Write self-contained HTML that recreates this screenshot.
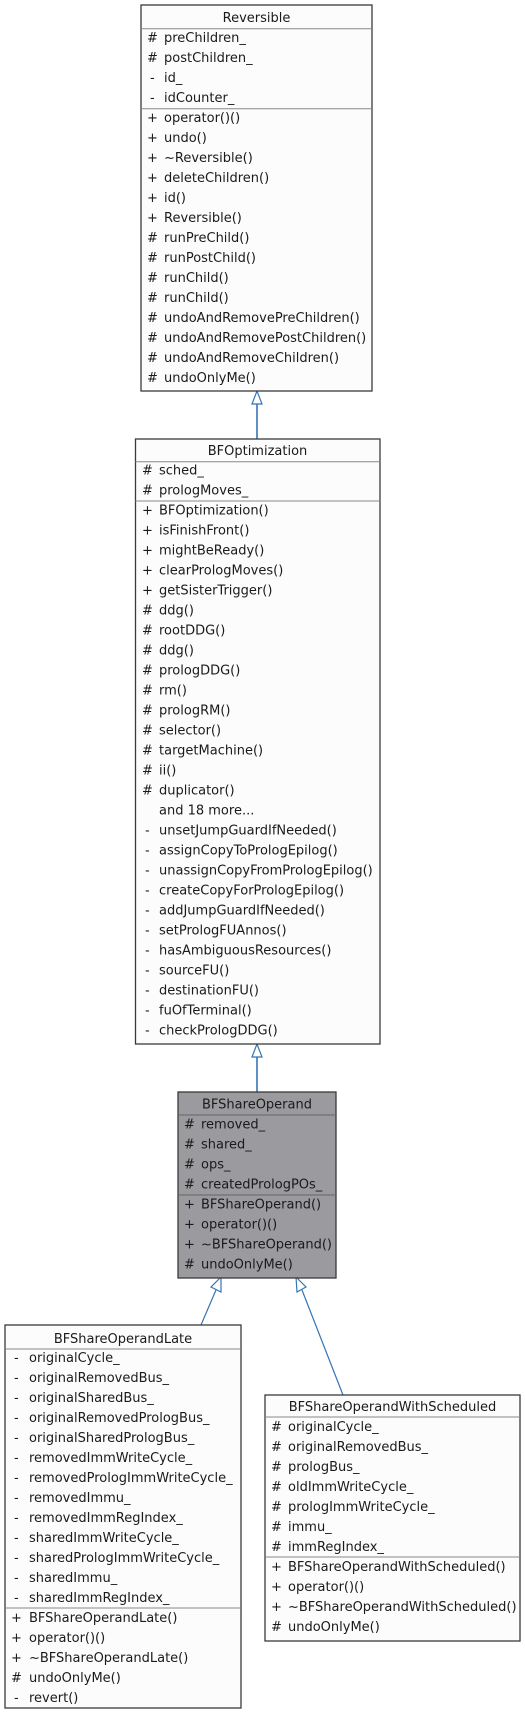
<!DOCTYPE html>
<html><head><meta charset="utf-8"><style>
html,body{margin:0;padding:0;background:#fff;}
svg{display:block;}
text{font-family:"DejaVu Sans","Liberation Sans",sans-serif;font-size:13px;fill:#1a1a1a;}
.box{fill:#fbfcfb;stroke:#3a3a3a;stroke-width:1.3;}
.sep{stroke:#888;stroke-width:1;}
.ln{stroke:#3575b5;fill:none;}
.ah{stroke:#3575b5;fill:#fff;stroke-width:1.2;}
</style></head><body>
<svg width="525" height="1716" viewBox="0 0 525 1716" xmlns="http://www.w3.org/2000/svg">
<line class="ln" x1="257" y1="404" x2="257" y2="439" stroke-width="1.6"/>
<polygon class="ah" points="257,391 252,404 262,404"/>
<line class="ln" x1="257" y1="1057" x2="257" y2="1092" stroke-width="1.6"/>
<polygon class="ah" points="257,1044 252,1057 262,1057"/>
<line class="ln" x1="216" y1="1290" x2="201" y2="1325" stroke-width="1.2"/>
<polygon class="ah" points="221,1277 211,1287 221,1292"/>
<line class="ln" x1="302" y1="1290" x2="343" y2="1395" stroke-width="1.2"/>
<polygon class="ah" points="296,1277 297,1292 306,1287"/>

<rect class="box" x="141" y="5" width="231" height="386"/>
<line class="sep" x1="141" y1="28.7" x2="372" y2="28.7"/>
<line class="sep" x1="141" y1="108.7" x2="372" y2="108.7"/>
<text x="256.5" y="22" text-anchor="middle">Reversible</text>
<g>
<text x="147" y="42">#</text><text x="164" y="42">preChildren_</text>
<text x="147" y="62">#</text><text x="164" y="62">postChildren_</text>
<text x="150" y="82">-</text><text x="164" y="82">id_</text>
<text x="150" y="102">-</text><text x="164" y="102">idCounter_</text>
<text x="147" y="122">+</text><text x="164" y="122">operator()()</text>
<text x="147" y="142">+</text><text x="164" y="142">undo()</text>
<text x="147" y="162">+</text><text x="164" y="162">~Reversible()</text>
<text x="147" y="182">+</text><text x="164" y="182">deleteChildren()</text>
<text x="147" y="202">+</text><text x="164" y="202">id()</text>
<text x="147" y="222">+</text><text x="164" y="222">Reversible()</text>
<text x="147" y="242">#</text><text x="164" y="242">runPreChild()</text>
<text x="147" y="262">#</text><text x="164" y="262">runPostChild()</text>
<text x="147" y="282">#</text><text x="164" y="282">runChild()</text>
<text x="147" y="302">#</text><text x="164" y="302">runChild()</text>
<text x="147" y="322">#</text><text x="164" y="322">undoAndRemovePreChildren()</text>
<text x="147" y="342">#</text><text x="164" y="342">undoAndRemovePostChildren()</text>
<text x="147" y="362">#</text><text x="164" y="362">undoAndRemoveChildren()</text>
<text x="147" y="382">#</text><text x="164" y="382">undoOnlyMe()</text>
</g>

<rect class="box" x="135.5" y="439" width="244.5" height="605"/>
<line class="sep" x1="135.5" y1="461.7" x2="380" y2="461.7"/>
<line class="sep" x1="135.5" y1="501" x2="380" y2="501"/>
<text x="257.5" y="455" text-anchor="middle">BFOptimization</text>
<g>
<text x="142" y="474.5">#</text><text x="159" y="474.5">sched_</text>
<text x="142" y="494.5">#</text><text x="159" y="494.5">prologMoves_</text>
<text x="142" y="514.5">+</text><text x="159" y="514.5">BFOptimization()</text>
<text x="142" y="534.5">+</text><text x="159" y="534.5">isFinishFront()</text>
<text x="142" y="554.5">+</text><text x="159" y="554.5">mightBeReady()</text>
<text x="142" y="574.5">+</text><text x="159" y="574.5">clearPrologMoves()</text>
<text x="142" y="594.5">+</text><text x="159" y="594.5">getSisterTrigger()</text>
<text x="142" y="614.5">#</text><text x="159" y="614.5">ddg()</text>
<text x="142" y="634.5">#</text><text x="159" y="634.5">rootDDG()</text>
<text x="142" y="654.5">#</text><text x="159" y="654.5">ddg()</text>
<text x="142" y="674.5">#</text><text x="159" y="674.5">prologDDG()</text>
<text x="142" y="694.5">#</text><text x="159" y="694.5">rm()</text>
<text x="142" y="714.5">#</text><text x="159" y="714.5">prologRM()</text>
<text x="142" y="734.5">#</text><text x="159" y="734.5">selector()</text>
<text x="142" y="754.5">#</text><text x="159" y="754.5">targetMachine()</text>
<text x="142" y="774.5">#</text><text x="159" y="774.5">ii()</text>
<text x="142" y="794.5">#</text><text x="159" y="794.5">duplicator()</text>
<text x="159" y="814.5">and 18 more...</text>
<text x="145" y="834.5">-</text><text x="159" y="834.5">unsetJumpGuardIfNeeded()</text>
<text x="145" y="854.5">-</text><text x="159" y="854.5">assignCopyToPrologEpilog()</text>
<text x="145" y="874.5">-</text><text x="159" y="874.5">unassignCopyFromPrologEpilog()</text>
<text x="145" y="894.5">-</text><text x="159" y="894.5">createCopyForPrologEpilog()</text>
<text x="145" y="914.5">-</text><text x="159" y="914.5">addJumpGuardIfNeeded()</text>
<text x="145" y="934.5">-</text><text x="159" y="934.5">setPrologFUAnnos()</text>
<text x="145" y="954.5">-</text><text x="159" y="954.5">hasAmbiguousResources()</text>
<text x="145" y="974.5">-</text><text x="159" y="974.5">sourceFU()</text>
<text x="145" y="994.5">-</text><text x="159" y="994.5">destinationFU()</text>
<text x="145" y="1014.5">-</text><text x="159" y="1014.5">fuOfTerminal()</text>
<text x="145" y="1034.5">-</text><text x="159" y="1034.5">checkPrologDDG()</text>
</g>

<rect x="178" y="1092" width="158" height="186" fill="#9b9a9e" stroke="#3a3a3a" stroke-width="1.3"/>
<line x1="178" y1="1115" x2="336" y2="1115" stroke="#666" stroke-width="1"/>
<line x1="178" y1="1195" x2="336" y2="1195" stroke="#666" stroke-width="1"/>
<text x="257" y="1108.5" text-anchor="middle">BFShareOperand</text>
<g>
<text x="184" y="1128.5">#</text><text x="201" y="1128.5">removed_</text>
<text x="184" y="1148.5">#</text><text x="201" y="1148.5">shared_</text>
<text x="184" y="1168.5">#</text><text x="201" y="1168.5">ops_</text>
<text x="184" y="1188.5">#</text><text x="201" y="1188.5">createdPrologPOs_</text>
<text x="184" y="1208.5">+</text><text x="201" y="1208.5">BFShareOperand()</text>
<text x="184" y="1228.5">+</text><text x="201" y="1228.5">operator()()</text>
<text x="184" y="1248.5">+</text><text x="201" y="1248.5">~BFShareOperand()</text>
<text x="184" y="1268.5">#</text><text x="201" y="1268.5">undoOnlyMe()</text>
</g>

<rect class="box" x="5" y="1325" width="236" height="383"/>
<line class="sep" x1="5" y1="1349" x2="241" y2="1349"/>
<line class="sep" x1="5" y1="1608" x2="241" y2="1608"/>
<text x="123" y="1343" text-anchor="middle">BFShareOperandLate</text>
<g>
<text x="14" y="1362.2">-</text><text x="29" y="1362.2">originalCycle_</text>
<text x="14" y="1382.2">-</text><text x="29" y="1382.2">originalRemovedBus_</text>
<text x="14" y="1402.2">-</text><text x="29" y="1402.2">originalSharedBus_</text>
<text x="14" y="1422.2">-</text><text x="29" y="1422.2">originalRemovedPrologBus_</text>
<text x="14" y="1442.2">-</text><text x="29" y="1442.2">originalSharedPrologBus_</text>
<text x="14" y="1462.2">-</text><text x="29" y="1462.2">removedImmWriteCycle_</text>
<text x="14" y="1482.2">-</text><text x="29" y="1482.2">removedPrologImmWriteCycle_</text>
<text x="14" y="1502.2">-</text><text x="29" y="1502.2">removedImmu_</text>
<text x="14" y="1522.2">-</text><text x="29" y="1522.2">removedImmRegIndex_</text>
<text x="14" y="1542.2">-</text><text x="29" y="1542.2">sharedImmWriteCycle_</text>
<text x="14" y="1562.2">-</text><text x="29" y="1562.2">sharedPrologImmWriteCycle_</text>
<text x="14" y="1582.2">-</text><text x="29" y="1582.2">sharedImmu_</text>
<text x="14" y="1602.2">-</text><text x="29" y="1602.2">sharedImmRegIndex_</text>
<text x="11" y="1622.2">+</text><text x="29" y="1622.2">BFShareOperandLate()</text>
<text x="11" y="1642.2">+</text><text x="29" y="1642.2">operator()()</text>
<text x="11" y="1662.2">+</text><text x="29" y="1662.2">~BFShareOperandLate()</text>
<text x="11" y="1682.2">#</text><text x="29" y="1682.2">undoOnlyMe()</text>
<text x="14" y="1702.2">-</text><text x="29" y="1702.2">revert()</text>
</g>

<rect class="box" x="265" y="1395" width="255" height="246"/>
<line class="sep" x1="265" y1="1417" x2="520" y2="1417"/>
<line class="sep" x1="265" y1="1557" x2="520" y2="1557"/>
<text x="392.5" y="1411" text-anchor="middle">BFShareOperandWithScheduled</text>
<g>
<text x="271" y="1431.2">#</text><text x="288" y="1431.2">originalCycle_</text>
<text x="271" y="1451.2">#</text><text x="288" y="1451.2">originalRemovedBus_</text>
<text x="271" y="1471.2">#</text><text x="288" y="1471.2">prologBus_</text>
<text x="271" y="1491.2">#</text><text x="288" y="1491.2">oldImmWriteCycle_</text>
<text x="271" y="1511.2">#</text><text x="288" y="1511.2">prologImmWriteCycle_</text>
<text x="271" y="1531.2">#</text><text x="288" y="1531.2">immu_</text>
<text x="271" y="1551.2">#</text><text x="288" y="1551.2">immRegIndex_</text>
<text x="271" y="1571.2">+</text><text x="288" y="1571.2">BFShareOperandWithScheduled()</text>
<text x="271" y="1591.2">+</text><text x="288" y="1591.2">operator()()</text>
<text x="271" y="1611.2">+</text><text x="288" y="1611.2">~BFShareOperandWithScheduled()</text>
<text x="271" y="1631.2">#</text><text x="288" y="1631.2">undoOnlyMe()</text>
</g>
</svg>
</body></html>
